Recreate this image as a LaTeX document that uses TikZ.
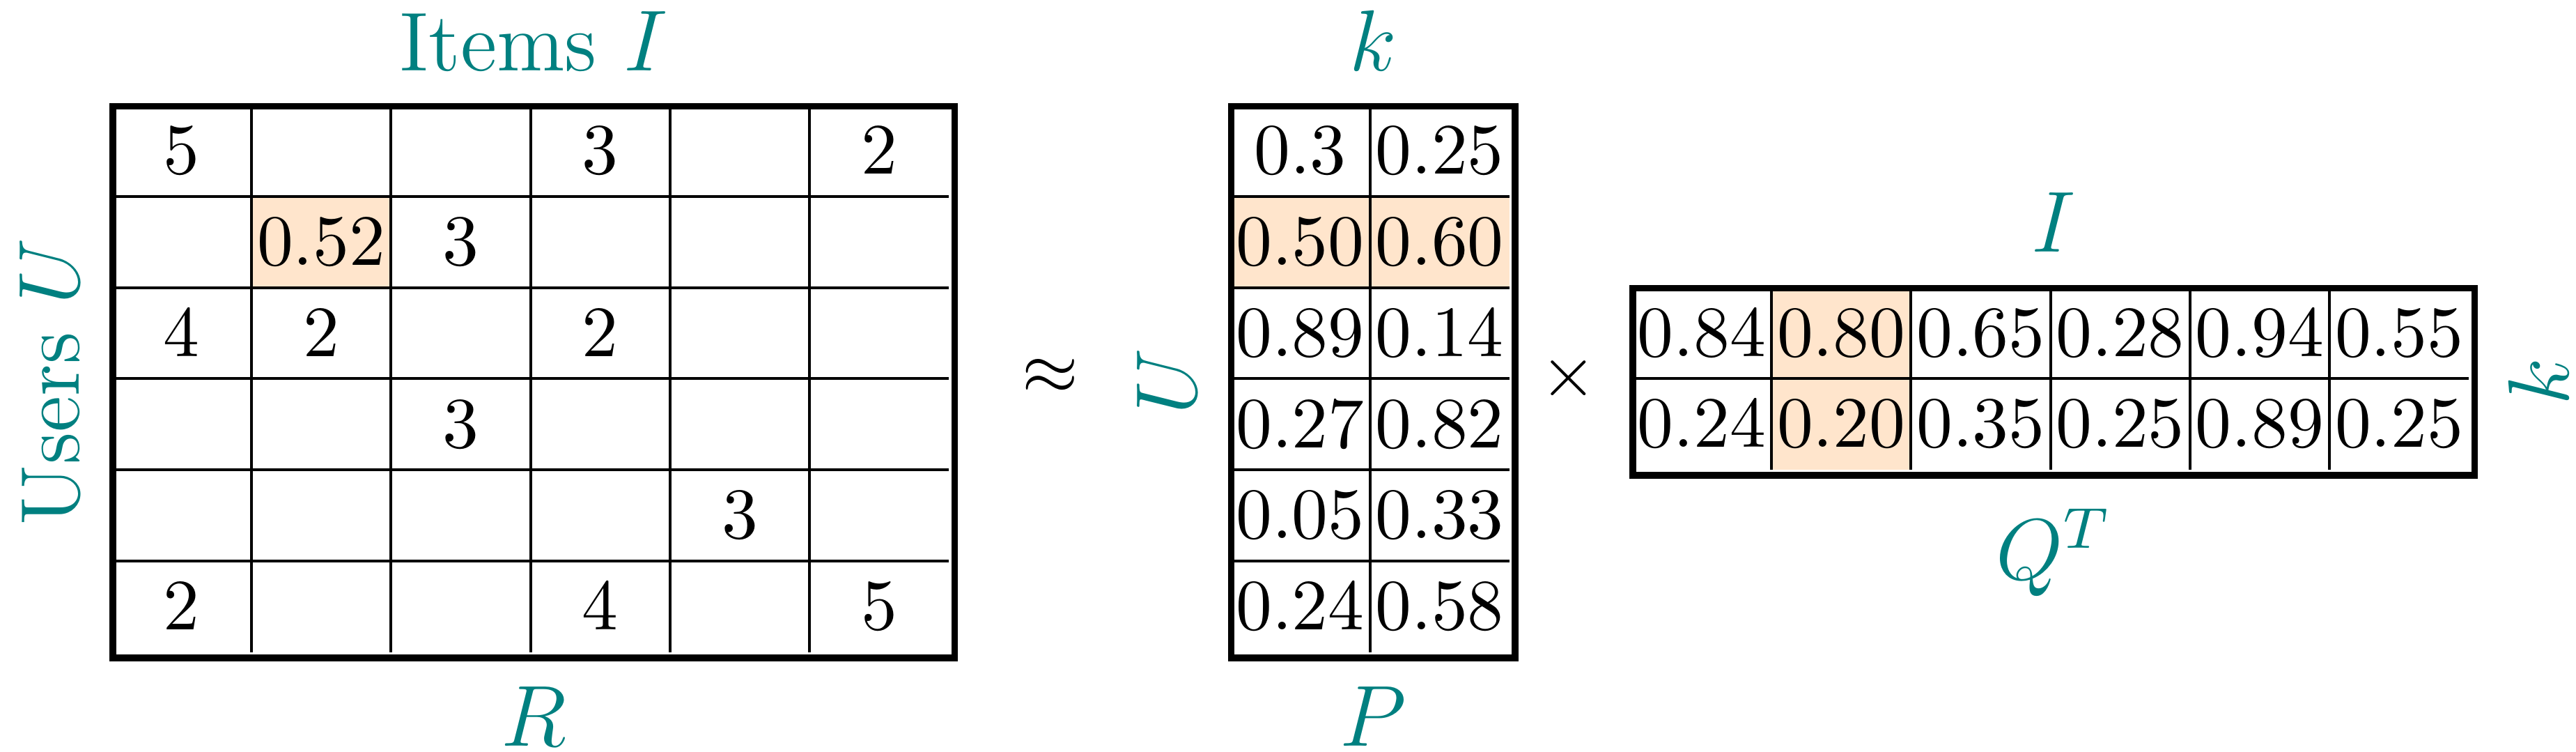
\documentclass[tikz,border=0pt]{standalone}
\usepackage{tikz}
\usetikzlibrary{positioning}
\tikzset{
  % colours
  label colour/.initial=teal,
  highlight colour/.initial=orange!20,
  % matrix entries
  entry/.style = {
    inner sep=0pt,
    anchor=center,
  },
  % names of matrices and their axes
  mat label/.style = {
    text=\pgfkeysvalueof{/tikz/label colour},
    font=\fontsize{11.55}{14}\selectfont,
    inner sep=0pt,
    anchor=base,
  },
  % thin lines between cells
  cell line/.style = {
    line width=0.39pt,
  },
  % thick frame round a matrix
  frame/.style = {
    draw,
    line width=0.92pt,
    inner sep=0pt,
    anchor=north west,
  },
  % highlighted cells
  highlight/.style = {
    fill=\pgfkeysvalueof{/tikz/highlight colour},
  },
}
\newcommand\cellw{0.6793}
\newcommand\cellh{0.4435}

\begin{document}
\begin{tikzpicture}
  \useasboundingbox (0,0) rectangle (12.544,-3.660);
  % ratings R
  \begin{scope}[shift={(0.5453,-0.5126)}]
    \fill[highlight] (\cellw,-\cellh) rectangle ++(\cellw,-\cellh);
    \foreach \i in {1,...,5} {
      \draw[cell line] (\i*\cellw,0) -- (\i*\cellw,-6*\cellh);
      \draw[cell line] (0,-\i*\cellh) -- (6*\cellw,-\i*\cellh);
    }
    \foreach \row/\col/\val in {1/1/5, 1/4/3, 1/6/2, 2/2/0.52, 2/3/3, 3/1/4, 3/2/2,
        3/4/2, 4/3/3, 5/5/3, 6/1/2, 6/4/4, 6/6/5}
      \node[entry] (R-\row-\col) at ({(\col-0.5)*\cellw},{-(\row-0.5)*\cellh}) {$\val$};
    \node[frame, minimum width=4.0998cm, minimum height=2.685cm] (R) at (-0.012,0.012) {};
  \end{scope}
  % user factors P
  \begin{scope}[shift={(5.9914,-0.5126)}]
    \fill[highlight] (0,-\cellh) rectangle ++(2*\cellw,-\cellh);
    \draw[cell line] (\cellw,0) -- (\cellw,-6*\cellh);
    \foreach \i in {1,...,5}
      \draw[cell line] (0,-\i*\cellh) -- (2*\cellw,-\i*\cellh);
    \foreach \row/\left/\right in {1/0.3/0.25, 2/0.50/0.60, 3/0.89/0.14, 4/0.27/0.82,
        5/0.05/0.33, 6/0.24/0.58} {
      \node[entry] (P-\row-1) at ({0.5*\cellw},{-(\row-0.5)*\cellh}) {$\left$};
      \node[entry] (P-\row-2) at ({1.5*\cellw},{-(\row-0.5)*\cellh}) {$\right$};
    }
    \node[frame, minimum width=1.3826cm, minimum height=2.685cm] (P) at (-0.012,0.012) {};
  \end{scope}
  % item factors Q^T
  \begin{scope}[shift={(7.9469,-1.3989)}]
    \fill[highlight] (\cellw,0) rectangle ++(\cellw,-2*\cellh);
    \foreach \i in {1,...,5}
      \draw[cell line] (\i*\cellw,0) -- (\i*\cellw,-2*\cellh);
    \draw[cell line] (0,-\cellh) -- (6*\cellw,-\cellh);
    \foreach \col/\top/\bottom in {1/0.84/0.24, 2/0.80/0.20, 3/0.65/0.35, 4/0.28/0.25,
        5/0.94/0.89, 6/0.55/0.25} {
      \node[entry] (Q-1-\col) at ({(\col-0.5)*\cellw},{-0.5*\cellh}) {$\top$};
      \node[entry] (Q-2-\col) at ({(\col-0.5)*\cellw},{-1.5*\cellh}) {$\bottom$};
    }
    \node[frame, minimum width=4.0998cm, minimum height=0.911cm] (Q) at (-0.012,0.012) {};
  \end{scope}
  % labels
  \node[mat label] (R-top) at ([yshift=0.157cm]R.north) {Items $I$};
  \node[mat label] (R-bottom) at ([yshift=-0.412cm]R.south) {$R$};
  \node[mat label, rotate=90] (R-left) at ([xshift=-0.15cm]R.west) {Users $U$};
  \node[mat label] (P-top) at ([yshift=0.157cm]P.north) {$k$};
  \node[mat label] (P-bottom) at ([yshift=-0.412cm]P.south) {$P$};
  \node[mat label, rotate=90] (P-left) at ([xshift=-0.152cm]P.west) {$U$};
  \node[mat label] (Q-top) at ([yshift=0.1615cm]Q.north) {$I$};
  \node[mat label] (Q-bottom) at ([yshift=-0.49cm]Q.south) {$Q^T$};
  \node[mat label, rotate=90] (Q-right) at ([xshift=0.441cm]Q.east) {$k$};
  % operators
  \node (approx) at (5.1153,-1.8335) {$\approx$};
  \node (times) at (7.6391,-1.8419) {$\times$};
\end{tikzpicture}
\end{document}
